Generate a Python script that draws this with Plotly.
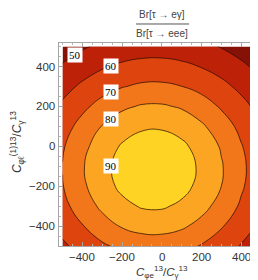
import plotly.graph_objects as go

# ---- data (ratio values on a 100-unit grid) ----
x_vals = [-500, -400, -300, -200, -100, 0, 100, 200, 300, 400, 500]
y_vals = [-500, -400, -300, -200, -100, 0, 100, 200, 300, 400, 500]

# rows ordered by y ascending (y = -500 first)
ratio_rows = [
    [58.3, 63.7, 68.5, 72.3, 74.6, 74.9, 73.0, 69.3, 64.8, 59.4, 53.9],
    [63.2, 69.5, 75.9, 80.8, 83.3, 83.5, 81.5, 77.0, 70.8, 64.6, 58.1],
    [67.2, 74.8, 82.0, 87.3, 90.9, 91.2, 88.2, 83.2, 76.4, 68.6, 61.4],
    [69.6, 78.3, 85.7, 92.3, 96.0, 96.4, 93.3, 87.1, 80.0, 71.3, 63.5],
    [70.3, 79.2, 86.8, 93.6, 97.3, 97.7, 94.6, 88.2, 80.8, 72.1, 64.0],
    [69.0, 77.4, 84.8, 91.0, 94.8, 95.1, 92.1, 86.1, 79.1, 70.6, 63.0],
    [66.0, 73.3, 80.4, 85.4, 88.5, 88.8, 86.2, 81.5, 74.8, 67.5, 60.3],
    [61.7, 67.8, 73.5, 78.3, 80.9, 81.1, 79.0, 74.6, 68.9, 63.0, 56.8],
    [56.7, 61.7, 66.2, 69.5, 71.6, 71.8, 70.1, 67.0, 62.7, 57.7, 52.4],
    [51.1, 55.4, 59.0, 61.7, 63.2, 63.4, 62.1, 59.6, 56.2, 52.0, 47.1],
    [44.9, 48.8, 51.9, 54.1, 55.3, 55.4, 54.5, 52.4, 49.5, 45.8, 41.3],
]

levels = [50, 60, 70, 80, 90]
band_colors = ["#861107", "#bd2209", "#de440e", "#f2761a", "#fba523", "#ffd324"]
tick_values = [-400, -200, 0, 200, 400]
tick_labels = ["−400", "−200", "0", "200", "400"]

# ---- helpers to place contour labels on the drawn contours ----
def column_at(xq):
    for i in range(len(x_vals) - 1):
        if x_vals[i] <= xq <= x_vals[i + 1]:
            w = (xq - x_vals[i]) / (x_vals[i + 1] - x_vals[i])
            return [r[i] * (1 - w) + r[i + 1] * w for r in ratio_rows]
    return [r[0] for r in ratio_rows]

def label_y(xq, level):
    col = column_at(xq)
    for j in range(len(y_vals) - 1, 0, -1):
        a, b = col[j], col[j - 1]
        if a < level <= b:
            t = (level - a) / (b - a)
            return y_vals[j] + t * (y_vals[j - 1] - y_vals[j])
    jmax = max(range(len(col)), key=lambda k: col[k])
    return y_vals[jmax]

label_columns = {50: -436, 60: -256, 70: -256, 80: -256, 90: -256}

n = len(band_colors)
colorscale = [[i / (n - 1), c] for i, c in enumerate(band_colors)]

fig = go.Figure()
fig.add_trace(go.Contour(
    x=x_vals, y=y_vals, z=ratio_rows,
    contours=dict(start=levels[0], end=levels[-1], size=10, coloring="fill",
                  showlabels=False),
    colorscale=colorscale,
    showscale=False,
    line=dict(color="rgba(35,12,0,0.8)", width=0.9, smoothing=1.3),
    hoverinfo="skip",
))

axis_common = dict(
    showgrid=False, zeroline=False,
    showline=True, linecolor="#a6a6a6", linewidth=1, mirror="allticks",
    ticks="inside", ticklen=4, tickwidth=1, tickcolor="#a6a6a6",
    minor=dict(dtick=50, ticks="inside", ticklen=2, tickcolor="#b8b8b8", tickwidth=1),
    tickvals=tick_values,
    showticklabels=False,
)

fig.update_layout(
    width=258, height=280,
    margin=dict(l=51, r=5, t=35, b=42),
    paper_bgcolor="white", plot_bgcolor="white",
    xaxis=dict(range=[-518, 500], **axis_common),
    yaxis=dict(range=[-500, 518], **axis_common),
    showlegend=False,
)

tick_font = dict(family="Liberation Sans, Arial", size=11.5, color="#333333")
annotations = []
for v, t in zip(tick_values, tick_labels):
    annotations.append(dict(x=v, y=-0.056, xref="x", yref="paper", text=t,
                            showarrow=False, xanchor="center", yanchor="middle",
                            font=tick_font))
    annotations.append(dict(x=-0.012, y=v, xref="paper", yref="y", text=t,
                            showarrow=False, xanchor="right", yanchor="middle",
                            font=tick_font))

for lv in levels:
    xq = label_columns[lv]
    annotations.append(dict(
        x=xq, y=label_y(xq, lv), xref="x", yref="y", text=str(lv),
        showarrow=False, bgcolor="white", borderpad=1,
        font=dict(family="Liberation Serif, Times New Roman", size=11, color="black"),
    ))

title_font = dict(family="Liberation Sans, Arial", size=10, color="#444444")
annotations += [
    dict(x=0.512, y=1.14, xref="paper", yref="paper", text="Br[τ → eγ]",
         showarrow=False, font=title_font, xanchor="center", yanchor="middle"),
    dict(x=0.512, y=1.049, xref="paper", yref="paper", text="Br[τ → eee]",
         showarrow=False, font=title_font, xanchor="center", yanchor="middle"),
    dict(x=0.512, y=-0.129, xref="paper", yref="paper",
         text="<i>C</i><sub>φe</sub><sup>13</sup>/<i>C</i><sub>γ</sub><sup>13</sup>",
         showarrow=False, xanchor="center", yanchor="middle",
         font=dict(family="Liberation Sans, Arial", size=11.5, color="#333333")),
    dict(x=-0.205, y=0.51, xref="paper", yref="paper", textangle=-90,
         text="<i>C</i><sub>φℓ</sub><sup>(1)13</sup>/<i>C</i><sub>γ</sub><sup>13</sup>",
         showarrow=False, xanchor="center", yanchor="middle",
         font=dict(family="Liberation Sans, Arial", size=12, color="#333333")),
]
fig.update_layout(annotations=annotations)

fig.add_shape(type="line", xref="paper", yref="paper",
              x0=0.381, x1=0.644, y0=1.0936, y1=1.0936,
              line=dict(color="#555555", width=1))

fig.write_html("out.html")
